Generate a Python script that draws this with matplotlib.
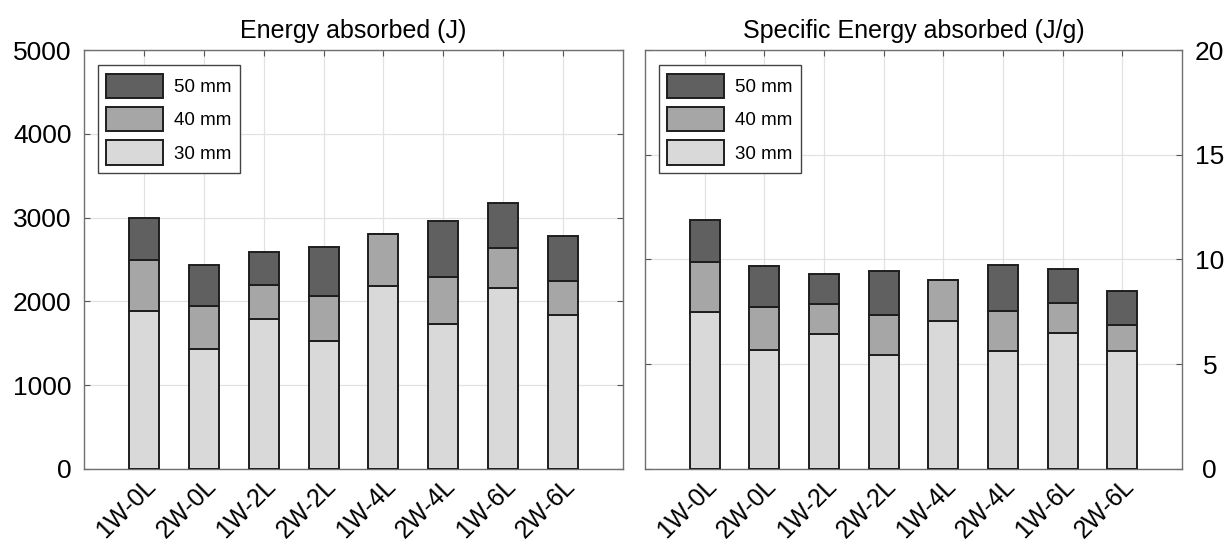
#!/usr/bin/env python3
"""Stacked bars: energy absorbed / specific energy absorbed per layup."""
import matplotlib
matplotlib.use("Agg")
import matplotlib.pyplot as plt
import matplotlib.transforms as mtransforms
import numpy as np

labels = ["1W-0L", "2W-0L", "1W-2L", "2W-2L", "1W-4L", "2W-4L", "1W-6L", "2W-6L"]
series = ["30 mm", "40 mm", "50 mm"]

# segment heights (stacked)
energy_30 = [1890, 1430, 1785, 1525, 2185, 1730, 2165, 1835]
energy_40 = [600, 520, 415, 535, 620, 565, 475, 405]
energy_50 = [500, 480, 385, 585, 0, 670, 540, 540]

sea_30 = [7.48, 5.67, 6.44, 5.43, 7.08, 5.65, 6.48, 5.63]
sea_40 = [2.42, 2.06, 1.45, 1.92, 1.96, 1.89, 1.43, 1.24]
sea_50 = [1.99, 1.96, 1.40, 2.09, 0.0, 2.18, 1.62, 1.64]

colors = ["#d9d9d9", "#a6a6a6", "#606060"]
edge = "#1e1e1e"

plt.rcParams["font.family"] = ["Liberation Sans", "DejaVu Sans"]

fig = plt.figure(figsize=(12.31, 5.40), dpi=100)
ax1 = fig.add_axes([0.0682, 0.1315, 0.4379, 0.7759])
ax2 = fig.add_axes([0.5240, 0.1315, 0.4362, 0.7759])

x = np.arange(1, len(labels) + 1)


def draw(ax, segs, ymax, yticks, title, right=False):
    bottom = np.zeros(len(labels))
    handles = []
    for vals, c, name in zip(segs, colors, series):
        vals = np.asarray(vals, dtype=float)
        b = ax.bar(x, vals, 0.5, bottom=bottom, color=c, edgecolor=edge,
                   linewidth=1.4, label=name, zorder=3)
        handles.append(b)
        bottom = bottom + vals
    ax.set_xlim(0, 9)
    ax.set_ylim(0, ymax)
    ax.set_xticks(x)
    ax.set_xticklabels(labels, rotation=45, ha="right", va="top",
                       rotation_mode="anchor", fontsize=18)
    # nudge rotated labels a bit left/up
    off = mtransforms.ScaledTranslation(-6 / 100, 5 / 100, fig.dpi_scale_trans)
    for t in ax.get_xticklabels():
        t.set_transform(t.get_transform() + off)
    ax.set_yticks(yticks)
    ax.tick_params(direction="in", length=4, width=0.8, color="#555555",
                   top=True, right=True, left=True, bottom=True)
    if right:
        ax.yaxis.tick_right()
        ax.tick_params(axis="y", left=True, direction="in", labelsize=19, pad=20)
        for t in ax.get_yticklabels():
            t.set_horizontalalignment("center")
    else:
        ax.tick_params(axis="y", labelsize=19, pad=9)
    ax.grid(True, color="#e2e2e2", linewidth=0.9, zorder=0)
    for s in ax.spines.values():
        s.set_color("#707070")
        s.set_linewidth(1.0)
    ax.set_title(title, fontsize=18, pad=9)
    leg = ax.legend(handles[::-1], series[::-1], loc="upper left",
                    bbox_to_anchor=(0.026, 0.964), borderaxespad=0,
                    fontsize=13.5, handlelength=3.0, handleheight=1.6,
                    labelspacing=0.5, handletextpad=0.6, borderpad=0.45,
                    fancybox=False, framealpha=1, edgecolor="#444444")
    leg.get_frame().set_linewidth(1.0)


draw(ax1, [energy_30, energy_40, energy_50], 5000,
     [0, 1000, 2000, 3000, 4000, 5000], "Energy absorbed (J)")
draw(ax2, [sea_30, sea_40, sea_50], 20,
     [0, 5, 10, 15, 20], "Specific Energy absorbed (J/g)", right=True)

fig.savefig("out.png", dpi=100)
print("saved out.png")
